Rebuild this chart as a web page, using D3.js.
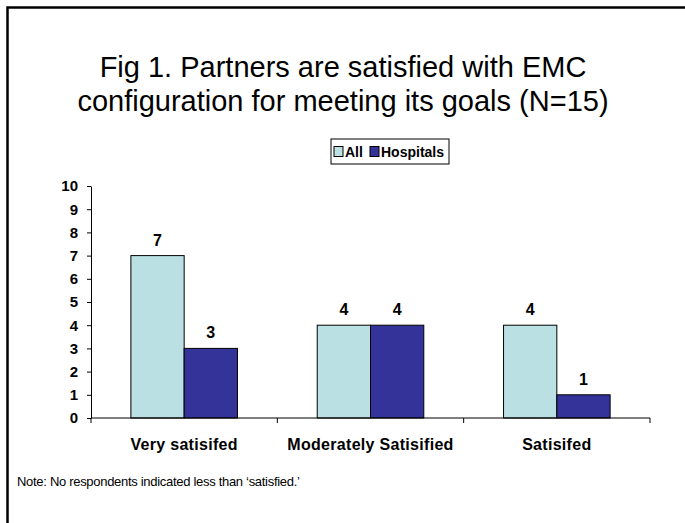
<!DOCTYPE html>
<html>
<head>
<meta charset="utf-8">
<script src="https://cdn.jsdelivr.net/npm/d3@7"></script>
<style>
  body { margin: 0; background: #fff; }
  svg { display: block; font-family: Arial, "Liberation Sans", sans-serif; }
</style>
</head>
<body>
<div id="chart"></div>
<script>
'use strict';

// data
var categories = ["Very satisifed", "Moderately Satisified", "Satisifed"];
var seriesNames = ["All", "Hospitals"];
var allValues = [7, 4, 4];
var hospitalValues = [3, 4, 1];
var yTicks = [0, 1, 2, 3, 4, 5, 6, 7, 8, 9, 10];
var colors = ["#BBE0E3", "#333399"];

var width = 685, height = 523;
var svg = d3.select("#chart").append("svg").attr("width", width).attr("height", height);

// outer frame (only left and top edges show)
svg.append("path")
  .attr("d", "M7.5," + height + "V7.5H" + width)
  .attr("fill", "none").attr("stroke", "#000").attr("stroke-width", 2.5);

// title
svg.append("text").attr("x", 343).attr("y", 77).attr("text-anchor", "middle")
  .style("font-size", "29px").text("Fig 1. Partners are satisfied with EMC");
svg.append("text").attr("x", 343).attr("y", 111).attr("text-anchor", "middle")
  .style("font-size", "29px").text("configuration for meeting its goals (N=15)");

// scales
var x = d3.scaleBand().domain(categories).range([91, 650]).padding(0);
var groupW = x.bandwidth() * 0.572;
var xs = d3.scaleBand().domain(seriesNames)
  .range([(x.bandwidth() - groupW) / 2, (x.bandwidth() + groupW) / 2]);
var y = d3.scaleLinear().domain([0, 10]).range([418, 186]);

var rows = categories.map(function (c, i) {
  return { cat: c, values: [allValues[i], hospitalValues[i]] };
});

// bars
var groups = svg.selectAll("g.cat").data(rows).enter().append("g")
  .attr("class", "cat")
  .attr("transform", function (d) { return "translate(" + x(d.cat) + ",0)"; });

groups.selectAll("rect").data(function (d) {
  return d.values.map(function (v, j) { return { name: seriesNames[j], v: v, j: j }; });
}).enter().append("rect")
  .attr("x", function (d) { return xs(d.name); })
  .attr("width", xs.bandwidth())
  .attr("y", function (d) { return y(d.v); })
  .attr("height", function (d) { return y(0) - y(d.v); })
  .attr("fill", function (d) { return colors[d.j]; })
  .attr("stroke", "#000").attr("stroke-width", 1);

groups.selectAll("text").data(function (d) {
  return d.values.map(function (v, j) { return { name: seriesNames[j], v: v }; });
}).enter().append("text")
  .attr("x", function (d) { return xs(d.name) + xs.bandwidth() / 2; })
  .attr("y", function (d) { return y(d.v) - 10; })
  .attr("text-anchor", "middle")
  .style("font-size", "16px").style("font-weight", "bold")
  .text(function (d) { return d.v; });

// y axis
var yAxis = svg.append("g").attr("transform", "translate(91,0)")
  .call(d3.axisLeft(y).tickValues(yTicks).tickSize(4).tickSizeOuter(0).tickPadding(9));
yAxis.selectAll("text").style("font-size", "15px").style("font-weight", "bold")
  .attr("fill", "#000").style("font-family", "Arial, 'Liberation Sans', sans-serif");
yAxis.selectAll("line, path").attr("stroke", "#000");

// x axis: ticks between categories
var xAxis = svg.append("g").attr("transform", "translate(0," + y(0) + ")");
xAxis.append("line").attr("x1", x.range()[0]).attr("x2", x.range()[1])
  .attr("stroke", "#000");
var bounds = categories.map(function (c) { return x(c); }).concat([x.range()[1]]);
xAxis.selectAll("line.tick").data(bounds).enter().append("line")
  .attr("class", "tick")
  .attr("x1", function (d) { return d; }).attr("x2", function (d) { return d; })
  .attr("y1", 0).attr("y2", 5).attr("stroke", "#000");
xAxis.selectAll("text").data(categories).enter().append("text")
  .attr("x", function (d) { return x(d) + x.bandwidth() / 2; })
  .attr("y", 32).attr("text-anchor", "middle")
  .style("font-size", "16px").style("font-weight", "bold")
  .style("letter-spacing", "0.3px")
  .text(function (d) { return d; });

// legend
var legend = svg.append("g").attr("transform", "translate(331,139)");
legend.append("rect").attr("width", 118).attr("height", 25)
  .attr("fill", "#fff").attr("stroke", "#000").attr("stroke-width", 1);
var legX = [3, 39];
seriesNames.forEach(function (name, i) {
  legend.append("rect").attr("x", legX[i]).attr("y", 7.5).attr("width", 9).attr("height", 10)
    .attr("fill", colors[i]).attr("stroke", "#000");
  legend.append("text").attr("x", legX[i] + 11).attr("y", 18)
    .style("font-size", "14px").style("font-weight", "bold").text(name);
});

// note
svg.append("text").attr("x", 17).attr("y", 486)
  .style("font-size", "13px").style("letter-spacing", "-0.3px")
  .text("Note: No respondents indicated less than \u2018satisfied.\u2019");
</script>
</body>
</html>
